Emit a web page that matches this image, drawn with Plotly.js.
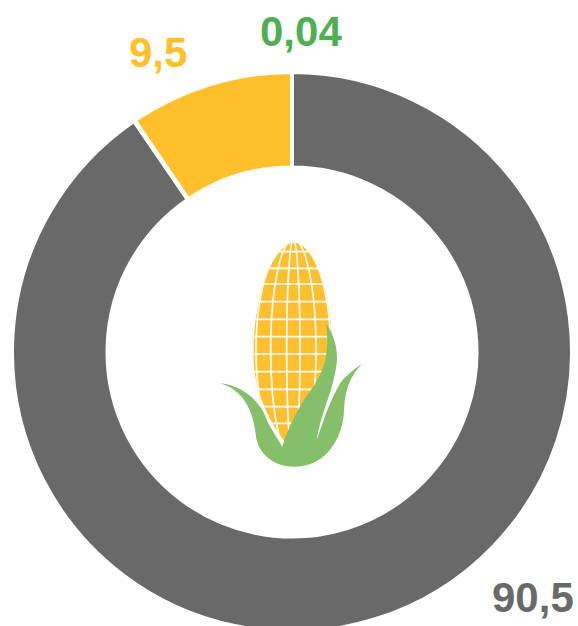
<!DOCTYPE html>
<html><head><meta charset="utf-8">
<script src="https://cdn.plot.ly/plotly-3.0.1.min.js"></script>
<style>html,body{margin:0;padding:0;background:#fff;overflow:hidden;width:578px;height:626px}</style>
</head><body><div id="chart"></div>
<script>
const categories = ['Gris', 'Verde', 'Amarillo'];
const values = [90.5, 0.04, 9.5];
const colors = ['#696969', '#4CAF50', '#FFC02B'];
const labelText = ['90,5', '0,04', '9,5'];
const labelX = [533, 300.5, 158];
const labelY = [597, 31, 52];

const W = 578, H = 640; // plot is taller than the window: ring is cropped at the bottom
const cx = 292, cy = 352, R = 280;

const hLines = [65,115,162,215,268,320,372,425,478,530,580];
const rxs = [20,68,112,165];
let grid = '';
hLines.forEach(y => grid += `<line x1="100" x2="450" y1="${y}" y2="${y}"/>`);
rxs.forEach(r => grid += `<ellipse cx="280" cy="360" rx="${r}" ry="330"/>`);
const svg = `<svg xmlns="http://www.w3.org/2000/svg" width="540" height="750" viewBox="0 0 540 750">
<defs><clipPath id="c"><path d="M282 38C340 38 397 190 397 370C397 500 340 610 282 665C225 610 160 500 160 370C160 190 225 38 282 38Z"/></clipPath>
<filter id="b"><feGaussianBlur stdDeviation="2"/></filter></defs>
<g filter="url(#b)"><g clip-path="url(#c)"><rect width="540" height="750" fill="#FFBF2D"/>
<g stroke="#fff" stroke-width="5" fill="none">${grid}</g></g>
<path fill="#86BF6B" d="M60 460C130 465 185 520 200 570C215 600 235 630 247 650C265 590 300 520 340 470C370 420 390 380 378 280C405 320 420 370 405 430C395 490 360 560 350 630C365 590 385 520 420 460C440 435 465 415 485 403C450 440 435 480 432 540C430 620 380 710 285 710C220 710 175 670 168 620C160 540 130 480 60 460Z"/></g></svg>`;

Plotly.newPlot('chart', [{
  type: 'pie', hole: 0.659, labels: categories, values: values, sort: false,
  direction: 'clockwise', rotation: 0, textinfo: 'none', showlegend: false,
  marker: {colors: colors, line: {color: '#fff', width: 4}},
  domain: {x: [(cx-R)/W, (cx+R)/W], y: [(H-cy-R)/H, (H-cy+R)/H]}
}], {
  width: W, height: H, margin: {l:0,r:0,t:0,b:0}, paper_bgcolor: '#fff', showlegend: false,
  annotations: labelText.map((t,i) => ({
    text: '<b>'+t+'</b>', xref:'paper', yref:'paper', x: labelX[i]/W, y: 1-labelY[i]/H,
    xanchor:'center', yanchor:'middle', showarrow:false,
    font:{family:'Liberation Sans, Arial, sans-serif', size:42, color: colors[i]}
  })),
  images: [{source: 'data:image/svg+xml;charset=utf-8,'+encodeURIComponent(svg),
    xref:'paper', yref:'paper', x:200/W, y:1-230/H, sizex:180/W, sizey:250/H,
    xanchor:'left', yanchor:'top', sizing:'stretch', layer:'above'}]
}, {displayModeBar:false, staticPlot:true});
</script></body></html>
